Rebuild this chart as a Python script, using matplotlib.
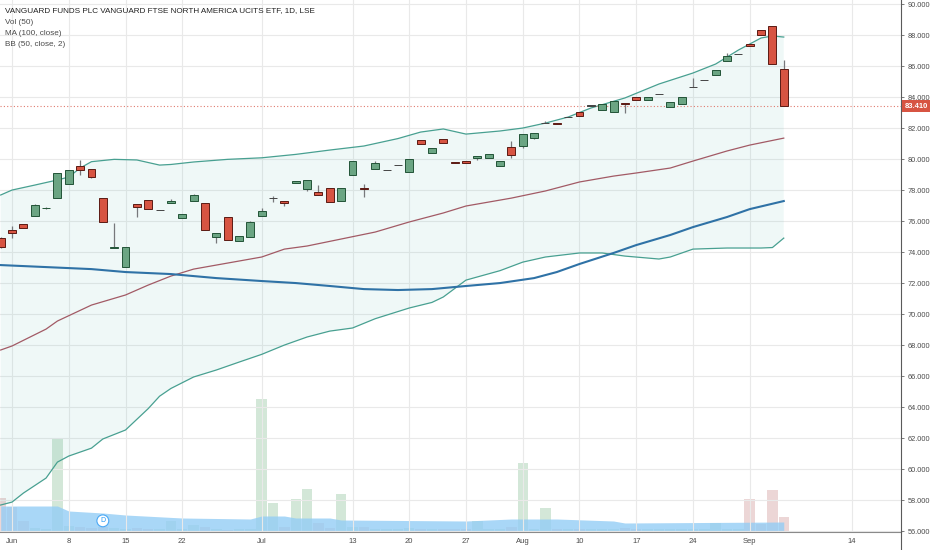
import numpy as np
import matplotlib.pyplot as plt
import matplotlib.transforms as mtransforms
from matplotlib.lines import Line2D

plt.rcParams['font.family'] = ['Liberation Sans', 'DejaVu Sans']

# bar index: 0 = 1 Jun 2020, trading days only (31 Aug LSE holiday skipped)
idx = np.arange(-1, 69)
opens = [74.90, 75.42, 75.81, 76.32, 76.82, 77.48, 78.39, 79.55, 79.35, 77.48,
         74.28, 73.03, 77.10, 77.35, 76.71, 77.16, 76.19, 77.29, 77.16, 74.97,
         76.26, 74.71, 74.97, 76.32, 77.48, 77.29, 78.45, 78.06, 77.87, 78.13,
         77.29, 78.97, 78.10, 79.35, 79.29, 79.61, 79.16, 81.23, 80.39, 81.29,
         79.81, 79.87, 80.06, 80.06, 79.55, 80.77, 80.84, 81.35, 82.32, 82.32,
         82.71, 83.03, 83.45, 83.16, 83.03, 83.61, 84.00, 83.81, 84.19, 83.35,
         83.55, 84.65, 85.10, 85.42, 86.32, 86.77, 87.42, 88.32, 88.58, 85.81]
highs = [74.95, 75.68, 75.84, 77.10, 76.88, 79.12, 79.31, 79.94, 79.37, 77.50,
         75.87, 74.34, 77.12, 77.37, 76.73, 77.42, 76.47, 77.74, 77.18, 75.25,
         76.28, 75.05, 76.00, 76.84, 77.61, 77.31, 78.60, 78.67, 78.32, 78.15,
         78.15, 79.89, 78.39, 79.87, 79.31, 79.63, 80.02, 81.25, 80.73, 81.31,
         79.83, 79.89, 80.21, 80.34, 79.89, 81.16, 81.63, 81.70, 82.45, 82.34,
         82.73, 83.05, 83.47, 83.57, 83.76, 83.63, 84.02, 84.02, 84.21, 83.70,
         84.02, 85.23, 85.12, 85.76, 86.84, 86.79, 87.44, 88.34, 88.60, 86.39]
lows = [74.28, 74.90, 75.52, 76.30, 76.80, 77.46, 78.37, 78.97, 78.77, 75.92,
        74.26, 73.01, 76.26, 76.75, 76.69, 77.14, 76.17, 77.27, 75.40, 74.58,
        74.75, 74.69, 74.95, 76.30, 77.23, 76.97, 78.43, 77.94, 77.66, 77.21,
        77.27, 78.95, 77.55, 79.33, 79.27, 79.59, 79.14, 80.95, 80.37, 81.01,
        79.72, 79.72, 79.97, 80.04, 79.53, 80.06, 80.71, 81.29, 82.30, 82.24,
        82.69, 82.75, 83.43, 83.14, 83.01, 82.97, 83.79, 83.79, 84.17, 83.33,
        83.53, 84.63, 85.08, 85.40, 86.30, 86.75, 87.27, 87.98, 86.11, 83.39]
closes = [74.32, 75.23, 75.55, 77.03, 76.86, 79.10, 79.29, 79.29, 78.84, 75.94,
          74.32, 74.32, 76.90, 76.77, 76.71, 77.29, 76.45, 77.68, 75.42, 75.23,
          74.77, 75.03, 75.94, 76.65, 77.48, 77.16, 78.58, 78.65, 77.68, 77.23,
          78.13, 79.87, 78.06, 79.74, 79.29, 79.61, 80.00, 80.97, 80.71, 81.03,
          79.74, 79.74, 80.19, 80.32, 79.87, 80.26, 81.61, 81.68, 82.32, 82.26,
          82.71, 82.77, 83.45, 83.55, 83.74, 83.55, 83.81, 84.00, 84.19, 83.68,
          84.00, 84.65, 85.10, 85.74, 86.65, 86.77, 87.29, 88.00, 86.13, 83.41]
volumes = [34, 25, 11, 4, 3, 94, 6, 5, 4, 5,
           4, 3, 4, 3, 3, 11, 3, 7, 5, 3,
           2, 3, 3, 133, 29, 5, 33, 43, 9, 4,
           38, 5, 5, 3, 3, 3, 4, 3, 3, 3,
           3, 3, 11, 3, 3, 5, 69, 3, 24, 3,
           3, 3, 3, 3, 3, 4, 3, 3, 3, 3,
           3, 3, 3, 9, 3, 3, 33, 8, 42, 15]
volumes = [v * 1000 for v in volumes]

# indicator lines, read at selected bars
bb_up_x = [-1, 0, 2, 4, 5, 6, 7, 9, 11, 13, 14, 16, 19, 22, 25, 28, 31, 34, 36,
           38, 40, 43, 45, 47, 49, 51, 54, 57, 60, 62, 64, 65, 66, 67, 68]
bb_up = [77.68, 78.00, 78.32, 78.65, 78.84, 79.42, 79.83, 79.98, 79.94, 79.61,
         79.65, 79.81, 79.98, 80.08, 80.30, 80.58, 80.84, 81.32, 81.74,
         81.94, 81.61, 81.81, 82.00, 82.32, 82.71, 83.29, 83.94, 84.84, 85.55,
         86.13, 87.03, 87.42, 87.81, 87.94, 87.87]
bb_lo_x = [-1, 0, 1, 3, 4, 5, 7, 8, 10, 12, 13, 14, 16, 18, 20, 22, 24, 26, 28,
           30, 32, 35, 37, 38, 40, 43, 45, 47, 50, 52, 54, 57, 58, 60, 63, 66,
           67, 68]
bb_lo = [57.68, 57.87, 58.45, 59.42, 60.45, 60.84, 61.35, 61.94, 62.52, 63.90,
         64.70, 65.20, 65.94, 66.39, 66.90, 67.40, 68.00, 68.52, 68.90, 69.10,
         69.70, 70.39, 70.75, 71.10, 72.19, 72.80, 73.35, 73.68, 73.94, 73.94,
         73.74, 73.55, 73.68, 74.19, 74.26, 74.26, 74.29, 74.90]
bb_mid_x = [-1, 0, 3, 4, 7, 10, 12, 14, 16, 19, 22, 24, 26, 29, 32, 35, 38, 40,
            44, 47, 50, 53, 55, 58, 60, 63, 65, 68]
bb_mid = [67.68, 67.94, 69.03, 69.55, 70.58, 71.23, 71.87, 72.45, 72.90, 73.29,
          73.68, 74.19, 74.39, 74.84, 75.29, 75.94, 76.52, 76.97, 77.48, 77.94,
          78.52, 78.90, 79.10, 79.42, 79.87, 80.52, 80.90, 81.35]
ma_x = [-1, 3, 7, 10, 14, 18, 22, 25, 28, 31, 34, 37, 40, 43, 46, 48, 50, 53,
        55, 58, 60, 63, 65, 68]
ma100 = [73.16, 73.03, 72.90, 72.71, 72.58, 72.32, 72.13, 72.00, 71.81, 71.61,
         71.55, 71.61, 71.81, 72.00, 72.32, 72.71, 73.23, 73.94, 74.45, 75.10,
         75.61, 76.26, 76.77, 77.29]
vol_ma_x = [-1, 4, 5, 8, 10, 15, 21, 22, 24, 25, 28, 29, 40, 44, 48, 53, 54, 68]
vol_ma = [26, 26, 21, 19, 17, 14, 13, 16, 16, 14, 14, 12, 11, 13, 13, 11, 9, 10]
vol_ma = [v * 1000 for v in vol_ma]

tick_pos = [0, 5, 10, 15, 22, 30, 35, 40, 45, 50, 55, 60, 65, 74]
tick_labels = ['Jun', '8', '15', '22', 'Jul', '13', '20', '27', 'Aug', '10',
               '17', '24', 'Sep', '14']
last_price = 83.41
dividend_bar = 8

fig = plt.figure(figsize=(9.32, 5.5), dpi=100)
ax = fig.add_axes([0, 18 / 550, 901 / 932, 532 / 550])
ax2 = ax.twinx()
ax.set_zorder(ax2.get_zorder() + 1)
ax.patch.set_visible(False)

# volume pane
o = np.array(opens)
c = np.array(closes)
vcol = np.where(c >= o, '#d3e7d8', '#ecd6d6')
ax2.bar(idx, volumes, width=0.92, color=vcol, zorder=1)
ax2.fill_between(vol_ma_x, 0, vol_ma, color='#94cdf5', alpha=0.8, lw=0, zorder=2)
ax2.set_ylim(0, 532000)
ax2.set_yticks([])
for s in ax2.spines.values():
    s.set_visible(False)

# bollinger band + MA
ax.fill(np.r_[bb_up_x, bb_lo_x[::-1]], np.r_[bb_up, bb_lo[::-1]],
        color='#26a69a', alpha=0.07, lw=0, zorder=1)
ax.plot(bb_up_x, bb_up, color='#48a091', lw=0.9, zorder=2)
ax.plot(bb_lo_x, bb_lo, color='#48a091', lw=0.9, zorder=2)
ax.plot(bb_mid_x, bb_mid, color='#a25a65', lw=0.9, zorder=2)
ax.plot(ma_x, ma100, color='#2f72a6', lw=1.5, zorder=2)

# candles
up = c > o
down = c < o
face = np.where(up, '#6ba583', np.where(down, '#d75442', '#555555'))
edge = np.where(up, '#225437', np.where(down, '#5b1a13', '#444444'))
body_h = np.maximum(np.abs(c - o), 0.03)
body_lo = np.where(c == o, o - body_h / 2, np.minimum(o, c))
ax.vlines(idx, lows, highs, color='#77787b', lw=0.9, zorder=3)
ax.bar(idx, body_h, bottom=body_lo, width=0.7, color=face, edgecolor=edge,
       linewidth=0.7, zorder=4)

ax.axhline(last_price, color='#e07a6e', ls=(0, (1, 2)), lw=0.8, zorder=2)

ax.set_xlim(-1.06, 78.33)
ax.set_ylim(55.94, 90.26)
ax.set_xticks(tick_pos)
ax.set_xticklabels(tick_labels)
ax.set_yticks(np.arange(56, 91, 2))
ax.set_yticklabels(['{:.3f}'.format(v) for v in np.arange(56, 91, 2)])
ax.yaxis.tick_right()
ax.grid(True, color='#e9e9e9', lw=0.8, zorder=0)
ax.set_axisbelow(True)
ax.tick_params(axis='x', length=0, pad=4, labelsize=5.5, labelcolor='#4a4a4a')
ax.tick_params(axis='y', length=2.5, width=0.6, color='#666666', pad=2,
               labelsize=5.3, labelcolor='#4a4a4a')
for s in ['top', 'left']:
    ax.spines[s].set_visible(False)
ax.spines['right'].set_color('#5a5a5a')
ax.spines['right'].set_linewidth(0.8)
ax.spines['bottom'].set_color('#8a8a8a')
ax.spines['bottom'].set_linewidth(0.8)
fig.add_artist(Line2D([901 / 932, 901 / 932], [0, 18 / 550], color='#5a5a5a',
                      lw=0.8))

# last price tag
tr = mtransforms.blended_transform_factory(ax.transAxes, ax.transData)
ax.text(1.004, last_price, '83.410', transform=tr, fontsize=5.5, color='white',
        fontweight='bold', va='center', ha='left', clip_on=False,
        bbox=dict(boxstyle='square,pad=0.3', fc='#d75442', ec='none'))

# dividend marker
trd = mtransforms.blended_transform_factory(ax.transData, ax.transAxes)
ax.text(dividend_bar, 0.021, 'D', transform=trd, fontsize=5, color='#2196f3',
        ha='center', va='center', zorder=6,
        bbox=dict(boxstyle='circle,pad=0.35', fc='white', ec='#4aa8f5', lw=0.8))

# legend text
fig.text(5 / 932, 1 - 11 / 550,
         'VANGUARD FUNDS PLC VANGUARD FTSE NORTH AMERICA UCITS ETF, 1D, LSE',
         fontsize=5.9, color='#222222', va='center')
for k, t in enumerate(['Vol (50)', 'MA (100, close)', 'BB (50, close, 2)']):
    fig.text(5 / 932, 1 - (22.5 + 11 * k) / 550, t, fontsize=5.9,
             color='#4a4a4a', va='center')

fig.savefig('out.png', dpi=100)
